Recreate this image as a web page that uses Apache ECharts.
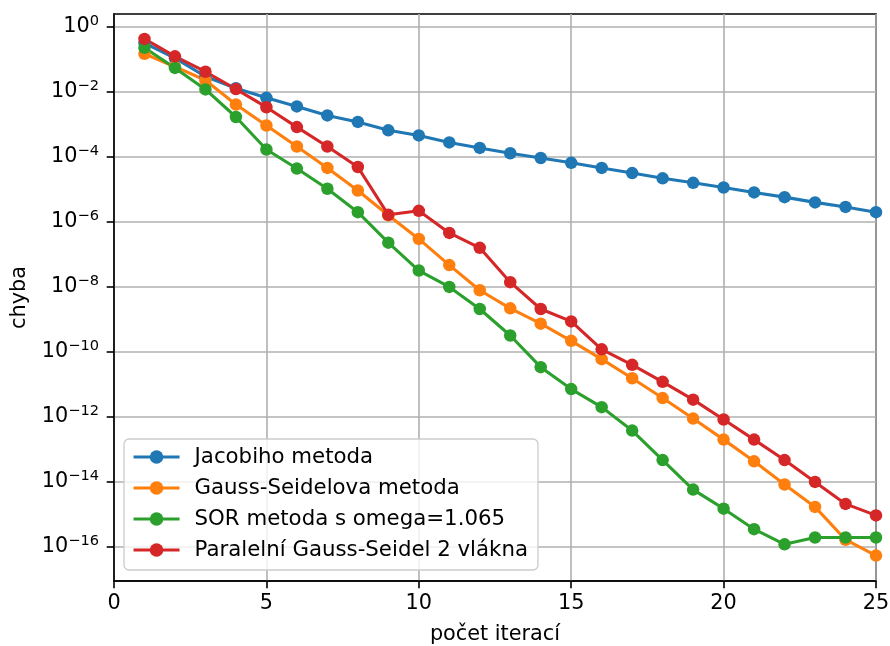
<!DOCTYPE html>
<html>
<head>
<meta charset="utf-8">
<title>chyba</title>
<script src="https://cdn.jsdelivr.net/npm/echarts@6.0.0/dist/echarts.min.js"></script>
<style>
  html, body { margin: 0; padding: 0; background: #fff; }
  #chart { width: 890px; height: 646px; }
</style>
</head>
<body>
<div id="chart"></div>
<script>
  // pocet iteraci
  const iterations = [1, 2, 3, 4, 5, 6, 7, 8, 9, 10, 11, 12, 13, 14, 15, 16, 17, 18, 19, 20, 21, 22, 23, 24, 25]

  // chyba po kazde iteraci
  const jacobi = [3.2e-1, 1.1e-1, 3.0e-2, 1.3e-2, 6.6e-3, 3.6e-3, 1.9e-3, 1.2e-3, 6.6e-4, 4.6e-4,
    2.8e-4, 1.9e-4, 1.3e-4, 9.3e-5, 6.6e-5, 4.6e-5, 3.2e-5, 2.2e-5, 1.6e-5, 1.15e-5,
    8.1e-6, 5.8e-6, 4.0e-6, 2.9e-6, 2.0e-6]
  const gaussSeidel = [1.5e-1, 6.0e-2, 2.3e-2, 4.1e-3, 9.3e-4, 2.1e-4, 4.6e-5, 9.3e-6, 1.6e-6, 3.0e-7,
    4.7e-8, 7.9e-9, 2.2e-9, 7.4e-10, 2.2e-10, 6.0e-11, 1.55e-11, 3.8e-12, 8.9e-13, 2.0e-13,
    4.3e-14, 8.3e-15, 1.7e-15, 1.66e-16, 5.4e-17]
  const sor = [2.3e-1, 5.5e-2, 1.2e-2, 1.7e-3, 1.7e-4, 4.4e-5, 1.05e-5, 2.0e-6, 2.3e-7, 3.2e-8,
    1.0e-8, 2.1e-9, 3.2e-10, 3.4e-11, 7.2e-12, 2.0e-12, 3.8e-13, 4.7e-14, 5.8e-15, 1.5e-15,
    3.5e-16, 1.2e-16, 1.95e-16, 1.95e-16, 1.95e-16]
  const paralel = [4.3e-1, 1.25e-1, 4.2e-2, 1.23e-2, 3.4e-3, 8.3e-4, 2.1e-4, 4.9e-5, 1.66e-6, 2.2e-6,
    4.6e-7, 1.6e-7, 1.4e-8, 2.1e-9, 8.7e-10, 1.2e-10, 4.0e-11, 1.2e-11, 3.4e-12, 8.3e-13,
    2.0e-13, 4.7e-14, 1.0e-14, 2.1e-15, 9.3e-16]

  const seriesNames = ['Jacobiho metoda', 'Gauss-Seidelova metoda', 'SOR metoda s omega=1.065', 'Paralelní Gauss-Seidel 2 vlákna']
  const seriesColors = ['#1f77b4', '#ff7f0e', '#2ca02c', '#d62728']

  // exponenty popisku na ose y (10^n)
  const yTickExponents = [-16, -14, -12, -10, -8, -6, -4, -2, 0]

  const FONT = 'DejaVu Sans'
  const FS = 20.8

  // osa y je log10 chyby
  function toLog (vals) {
    return iterations.map((it, i) => [it, Math.log10(vals[i])])
  }

  function makeSeries (name, vals, color) {
    return {
      name: name,
      type: 'line',
      data: toLog(vals),
      symbol: 'circle',
      symbolSize: 12.5,
      itemStyle: {color: color},
      lineStyle: {color: color, width: 3.1},
      emphasis: {disabled: true}
    }
  }

  let chart = echarts.init(document.getElementById('chart'), null, {renderer: 'canvas'})
  chart.setOption({
    animation: false,
    backgroundColor: '#fff',
    textStyle: {fontFamily: FONT},
    grid: {
      left: 114,
      right: 14,
      top: 14,
      bottom: 65,
      // v6 by jinak zmensil mrizku kvuli popisku osy
      outerBoundsMode: 'none',
      show: true,
      borderColor: '#000',
      borderWidth: 1.6
    },
    legend: {
      orient: 'vertical',
      left: 124,
      top: 439,
      padding: [6, 10, 8, 8],
      itemWidth: 46,
      itemHeight: 17,
      itemGap: 7,
      backgroundColor: 'rgba(255,255,255,0.8)',
      borderColor: '#cccccc',
      borderWidth: 1.3,
      borderRadius: 5,
      lineStyle: {width: 3.1},
      textStyle: {fontFamily: FONT, fontSize: 21.3, color: '#000', lineHeight: 24, padding: [0, 0, 0, 10]},
      data: seriesNames
    },
    xAxis: {
      type: 'value',
      min: 0,
      max: 25,
      interval: 5,
      name: 'počet iterací',
      nameLocation: 'middle',
      nameGap: 43,
      nameTextStyle: {fontFamily: FONT, fontSize: FS, color: '#000'},
      axisLine: {onZero: false, lineStyle: {color: '#000', width: 1.6}},
      axisTick: {length: 7.3, lineStyle: {color: '#000', width: 1.6}},
      axisLabel: {fontFamily: FONT, fontSize: FS, color: '#000', margin: 12},
      splitLine: {lineStyle: {color: '#b0b0b0', width: 1.6}}
    },
    yAxis: {
      type: 'value',
      min: -17.05,
      max: 0.4,
      minInterval: 2,
      maxInterval: 2,
      name: 'chyba',
      nameLocation: 'middle',
      nameRotate: 90,
      nameGap: 84,
      nameTextStyle: {fontFamily: FONT, fontSize: FS, color: '#000'},
      axisLine: {onZero: false, lineStyle: {color: '#000', width: 1.6}},
      axisTick: {length: 7.3, customValues: yTickExponents, lineStyle: {color: '#000', width: 1.6}},
      axisLabel: {
        customValues: yTickExponents,
        margin: 15,
        color: '#000',
        formatter: function (v) {
          let n = Math.round(v)
          let sup = n < 0 ? '\u2212' + (-n) : String(n)
          return '{b|10}{s|' + sup + '}'
        },
        rich: {
          b: {fontFamily: FONT, fontSize: FS, color: '#000'},
          s: {fontFamily: FONT, fontSize: 14.6, color: '#000', padding: [0, 0, 11, 0]}
        }
      },
      splitLine: {lineStyle: {color: '#b0b0b0', width: 1.6}}
    },
    series: [
      makeSeries(seriesNames[0], jacobi, seriesColors[0]),
      makeSeries(seriesNames[1], gaussSeidel, seriesColors[1]),
      makeSeries(seriesNames[2], sor, seriesColors[2]),
      makeSeries(seriesNames[3], paralel, seriesColors[3])
    ]
  })
</script>
</body>
</html>
